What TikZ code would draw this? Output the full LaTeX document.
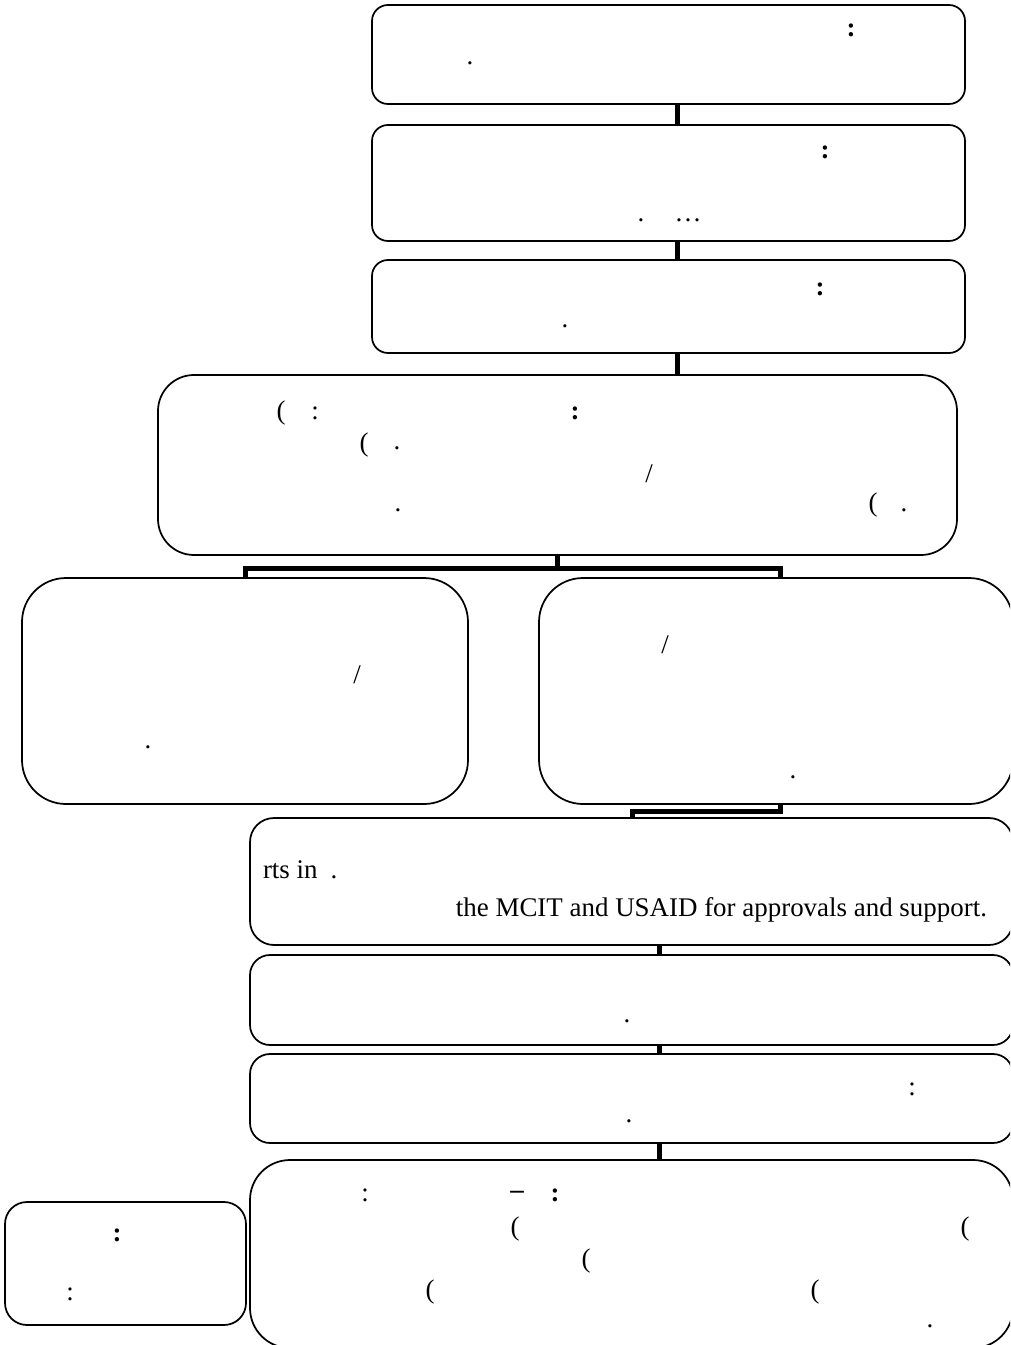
\documentclass[tikz,border=0pt]{standalone}
\usepackage{fontspec}
\setmainfont{Liberation Serif}
\newcommand\mybox[6]{\node[box, rounded corners=#6*0.75pt, minimum width={(#4-#2)*0.75pt}, minimum height={(#5-#3)*0.75pt}] (#1) at (#2,#3) {};}
\tikzset{
  box/.style={draw, line width=1.3pt, inner sep=0pt, outer sep=0pt, anchor=north west},
  conn/.style={line width=3.75pt, line join=miter, line cap=butt},
  txt/.style={inner sep=0pt, outer sep=0pt, font=\fontsize{20.2}{24}\selectfont},
  btxt/.style={txt, font=\fontsize{20.2}{24}\selectfont\bfseries},
}
\begin{document}
\begin{tikzpicture}[x=0.75pt,y=-0.75pt]
\useasboundingbox (0,0) rectangle (1010,1345);
\clip (0,0) rectangle (1010,1345);
% boxes
\mybox{b1}{372}{5}{965}{104}{16}
\mybox{b2}{372}{125}{965}{241}{16}
\mybox{b3}{372}{260}{965}{353}{16}
\mybox{b4}{158}{375}{957}{555}{36}
\mybox{b5}{22}{578}{468}{804}{44}
\mybox{b6}{539}{578}{1013}{804}{44}
\mybox{b7}{250}{818}{1013}{945}{24}
\mybox{b8}{250}{955}{1013}{1045}{20}
\mybox{b9}{250}{1054}{1013}{1143}{20}
\mybox{b10}{250}{1160}{1013}{1348}{40}
\mybox{b11}{5}{1202}{246}{1325}{22}
% connector coordinates
\coordinate (c1) at (677,0);
\coordinate (c2) at (659,0);
\coordinate (jm) at (557,568);
\coordinate (jl) at (245,568);
\coordinate (jr) at (780,568);
\coordinate (k1) at (780,811);
\coordinate (k2) at (632,811);
% connectors
\draw[conn] (b1.south -| c1) -- (b2.north -| c1);
\draw[conn] (b2.south -| c1) -- (b3.north -| c1);
\draw[conn] (b3.south -| c1) -- (b4.north -| c1);
\draw[conn] (b4.south -| jm) -- (jm);
\draw[conn] (b5.north -| jl) -- (jl) -- (jr) -- (b6.north -| jr);
\draw[conn] (b6.south -| k1) -- (k1) -- (k2) -- (b7.north -| k2);
\draw[conn] (b7.south -| c2) -- (b8.north -| c2);
\draw[conn] (b8.south -| c2) -- (b9.north -| c2);
\draw[conn] (b9.south -| c2) -- (b10.north -| c2);
% box 1
\node[btxt] (t1a) at (851,30) {:};
\node[txt] (t1b) at (470,63) {.};
% box 2
\node[btxt] (t2a) at (825,152) {:};
\node[txt] (t2b) at (641,220) {.};
\node[txt] (t2c) at (688,220) {\ldots};
% box 3
\node[btxt] (t3a) at (820,289) {:};
\node[txt] (t3b) at (565,326) {.};
% box 4
\node[txt] (t4a) at (281,413) {(};
\node[txt] (t4b) at (315,413) {:};
\node[btxt] (t4c) at (575,413) {:};
\node[txt] (t4d) at (364,445) {(};
\node[txt] (t4e) at (397,448) {.};
\node[txt] (t4f) at (649,474) {/};
\node[txt] (t4g) at (398,510) {.};
\node[txt] (t4h) at (873,505) {(};
\node[txt] (t4i) at (904,510) {.};
% box 5
\node[txt] (t5a) at (357,675) {/};
\node[txt] (t5b) at (148,747) {.};
% box 6
\node[txt] (t6a) at (665,645) {/};
\node[txt] (t6b) at (793,777) {.};
% box 7
\node[txt, anchor=base west] (t7a) at (263,878) {rts in};
\node[txt, anchor=base] (t7b) at (334,878) {.};
\node[txt, anchor=base east] (t7c) at (987,916) {the MCIT and USAID for approvals and support.};
% box 8
\node[txt] (t8a) at (627,1021) {.};
% box 9
\node[txt] (t9a) at (912,1089) {:};
\node[txt] (t9b) at (629,1121) {.};
% box 10
\node[txt] (t10a) at (365,1195) {:};
\node[btxt] (t10b) at (517,1195) {--};
\node[btxt] (t10c) at (555,1195) {:};
\node[txt] (t10d) at (515,1229) {(};
\node[txt] (t10e) at (965,1229) {(};
\node[txt] (t10f) at (586,1261) {(};
\node[txt] (t10g) at (430,1292) {(};
\node[txt] (t10h) at (815,1292) {(};
\node[txt] (t10i) at (930,1326) {.};
% box 11
\node[btxt] (t11a) at (117,1235) {:};
\node[txt] (t11b) at (70,1294) {:};
\end{tikzpicture}
\end{document}
